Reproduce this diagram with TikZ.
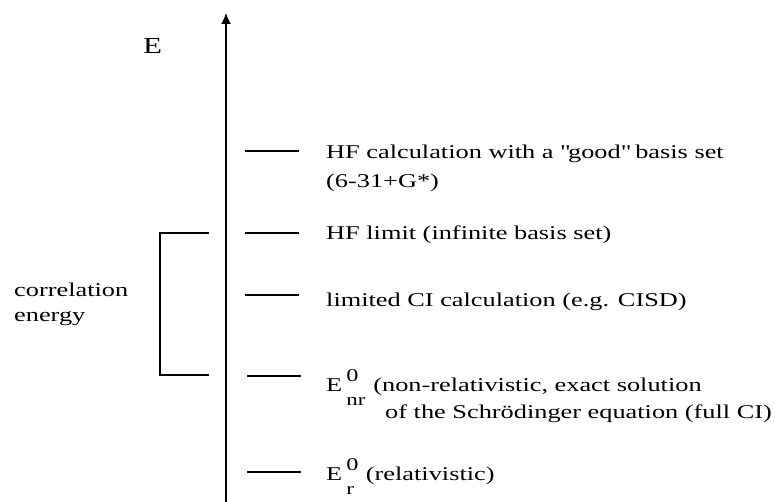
\documentclass[tikz,border=0pt]{standalone}
\usepackage{fontspec}
\setmainfont[FakeStretch=1.35]{Liberation Serif}
\usetikzlibrary{arrows.meta}
\newcommand{\supsub}[2]{\hspace{4pt}\rlap{\raisebox{10pt}{\fontsize{18}{18}\selectfont #1}}\raisebox{-14pt}{\fontsize{17}{17}\selectfont #2}}
\begin{document}
\begin{tikzpicture}[x=1pt,y=-1pt,
  lbl/.style={anchor=base west,inner sep=0pt,font=\fontsize{19.5}{22}\selectfont},
  lvl/.style={line width=1.2pt},
  axisline/.style={line width=1.5pt,-{Latex[length=11pt,width=10pt]}}]
\useasboundingbox (0,0) rectangle (775,502);
% axis
\coordinate (ax0) at (226,502);
\coordinate (ax1) at (226,13);
\draw[axisline] (ax0) -- (ax1);
\node[lbl,font=\fontsize{23}{24}\selectfont] (E) at (143,54) {E};
% levels
\coordinate (l1a) at (245,151); \coordinate (l1b) at (299,151);
\coordinate (l2a) at (245,233); \coordinate (l2b) at (299,233);
\coordinate (l3a) at (245,295); \coordinate (l3b) at (299,295);
\coordinate (l4a) at (247,376); \coordinate (l4b) at (301,376);
\coordinate (l5a) at (247,472); \coordinate (l5b) at (301,472);
\foreach \i in {1,...,5} {\draw[lvl] (l\i a) -- (l\i b);}
% bracket
\coordinate (b1) at (209,233); \coordinate (b2) at (160,233);
\coordinate (b3) at (160,375); \coordinate (b4) at (209,375);
\draw[lvl] (b1) -- (b2) -- (b3) -- (b4);
% labels
\node[lbl] (t1) at (326,159) {HF calculation with a \textquotedbl good\textquotedbl{} basis set};
\node[lbl] (t1b) at (326,188) {(6-31+G*)};
\node[lbl] (t2) at (326,240) {HF limit (infinite basis set)};
\node[lbl] (t3) at (326,306) {limited CI calculation (e.g. CISD)};
\node[lbl] (t4) at (326,391) {E\supsub{0}{nr}\hspace{8pt}(non-relativistic, exact solution};
\node[lbl] (t4b) at (385,418) {of the Schrödinger equation (full CI)};
\node[lbl] (t5) at (326,480) {E\supsub{0}{r}\hspace{12pt}(relativistic)};
\node[lbl] (c1) at (14,296) {correlation};
\node[lbl] (c2) at (14,321) {energy};
\end{tikzpicture}
\end{document}
